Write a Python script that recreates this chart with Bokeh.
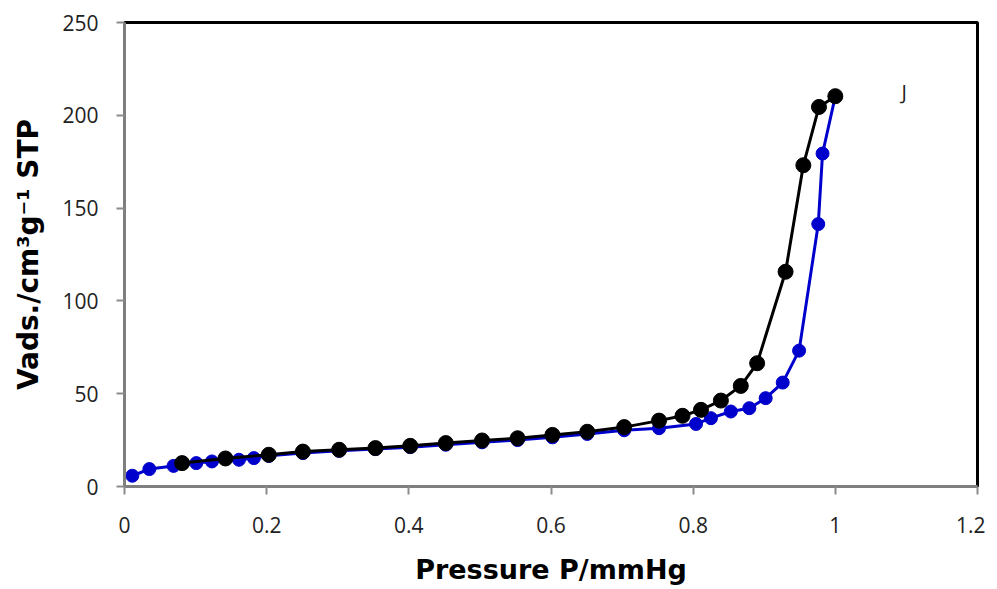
from bokeh.plotting import figure
from bokeh.models import FixedTicker, Range1d
from bokeh.core.properties import value
from bokeh.embed import file_html
from bokeh.resources import INLINE

# Adsorption branch (blue)
ads_p = [0.011, 0.035, 0.069, 0.101, 0.123, 0.161, 0.182, 0.203, 0.251, 0.302,
         0.353, 0.402, 0.452, 0.503, 0.553, 0.602, 0.651, 0.703, 0.752, 0.804,
         0.825, 0.853, 0.879, 0.902, 0.926, 0.949, 0.976, 0.982, 1.0]
ads_v = [5.8, 9.4, 11.1, 12.6, 13.5, 14.4, 15.3, 16.5, 18.0, 19.2,
         20.2, 21.2, 22.5, 23.8, 25.0, 26.5, 28.3, 30.3, 31.4, 33.7,
         36.8, 40.4, 42.2, 47.6, 56.0, 73.2, 141.4, 179.4, 210.3]

# Desorption branch (black)
des_p = [0.081, 0.142, 0.203, 0.251, 0.302, 0.353, 0.402, 0.452, 0.503, 0.553,
         0.602, 0.651, 0.703, 0.752, 0.785, 0.811, 0.839, 0.867, 0.890, 0.930,
         0.955, 0.977, 1.0]
des_v = [12.6, 15.1, 17.1, 18.8, 19.8, 20.7, 21.9, 23.4, 24.8, 26.0,
         27.8, 29.5, 32.0, 35.5, 38.1, 41.3, 46.3, 54.2, 66.4, 115.7,
         173.1, 204.5, 210.3]

x_ticks = [0, 0.2, 0.4, 0.6, 0.8, 1.0, 1.2]
x_tick_labels = ["0", "0.2", "0.4", "0.6", "0.8", "1", "1.2"]
y_ticks = [0, 50, 100, 150, 200, 250]
y_tick_labels = ["0", "50", "100", "150", "200", "250"]

label_text = ["J"]
label_x = [1.093]
label_y = [213]

p = figure(width=985, height=587, output_backend="svg", toolbar_location=None,
           x_range=Range1d(0, 1.2), y_range=Range1d(0, 250),
           min_border_left=124, min_border_right=8, min_border_top=22,
           min_border_bottom=93)

p.xgrid.visible = False
p.ygrid.visible = False
p.outline_line_color = "black"
p.outline_line_width = 3
p.background_fill_color = "white"
p.border_fill_color = "white"

p.xaxis.ticker = FixedTicker(ticks=x_ticks)
p.yaxis.ticker = FixedTicker(ticks=y_ticks)
p.xaxis.major_label_overrides = {t: l for t, l in zip(x_ticks, x_tick_labels)}
p.yaxis.major_label_overrides = {t: l for t, l in zip(y_ticks, y_tick_labels)}

for ax in (p.xaxis[0], p.yaxis[0]):
    ax.axis_line_color = "#7f7f7f"
    ax.axis_line_width = 3
    ax.major_tick_line_color = "#8c8c8c"
    ax.major_tick_line_width = 2
    ax.major_tick_out = 8
    ax.major_tick_in = 0
    ax.minor_tick_line_color = None
    ax.major_label_text_font = "Open Sans"
    ax.major_label_text_font_size = "21px"
    ax.major_label_text_color = "#222222"
    ax.axis_label_text_font = "DejaVu Sans"
    ax.axis_label_text_font_style = "bold"
    ax.axis_label_text_color = "black"

p.xaxis.axis_label = "Pressure P/mmHg"
p.xaxis.axis_label_text_font_size = "27px"
p.xaxis.major_label_standoff = 22
p.xaxis.axis_label_standoff = 18

p.yaxis.axis_label = "Vads./cm³g⁻¹ STP"
p.yaxis.axis_label_text_font_size = "28px"
p.yaxis.major_label_standoff = 18
p.yaxis.axis_label_standoff = 14

blue = "#0000CC"
p.line(ads_p, ads_v, line_color=blue, line_width=3)
p.scatter(ads_p, ads_v, size=13, fill_color=blue, line_color=blue)

p.line(des_p, des_v, line_color="black", line_width=3)
p.scatter(des_p, des_v, size=15, fill_color="black", line_color="black")

p.text(x=label_x, y=label_y, text=label_text, text_font=value("Open Sans"),
       text_font_size="20px", text_color="#222222",
       text_align="left", text_baseline="middle")

open("out.html", "w").write(file_html(p, INLINE))
